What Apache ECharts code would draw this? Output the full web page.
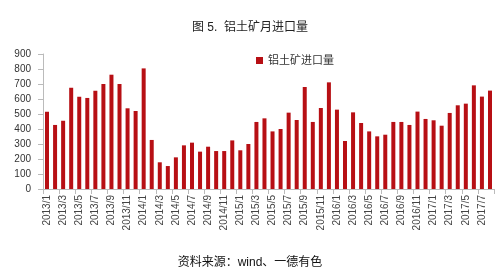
<!DOCTYPE html>
<html><head><meta charset="utf-8">
<script src="https://cdn.jsdelivr.net/npm/echarts@6/dist/echarts.min.js"></script>
<style>html,body{margin:0;padding:0;background:#fff}#c{width:500px;height:277px}</style>
</head><body><div id="c"></div>
<script>
const months = [];
for (let y = 2013; y <= 2017; y++) for (let m = 1; m <= 12; m++) { if (y === 2017 && m > 8) break; months.push(y + '/' + m); }
const seriesName = '铝土矿进口量';
const imports = [515,427,455,675,615,607,655,700,762,700,538,520,
  804,327,178,153,211,291,309,249,282,253,253,324,
  258,300,447,471,384,400,509,460,680,447,540,711,
  529,320,511,440,384,351,362,447,447,427,516,467,
  458,422,507,558,569,691,616,656];
const yTicks = {min:0, max:900, interval:100};
const chart = echarts.init(document.getElementById('c'), null, {renderer:'canvas'});
const font = '"Liberation Sans", "Noto Sans CJK SC", sans-serif';
chart.setOption({
  animation:false,
  title:[{text:'图 5.  铝土矿月进口量', left:'center', top:17, textStyle:{fontSize:12, fontWeight:'normal', color:'#222', fontFamily:font}},
         {text:'资料来源：wind、一德有色', left:'center', top:252, textStyle:{fontSize:12, fontWeight:'normal', color:'#111', fontFamily:font}}],
  legend:{data:[seriesName], left:251, top:50, itemWidth:7, itemHeight:7, itemGap:4, icon:'rect', textStyle:{fontSize:11, color:'#333', fontFamily:font}},
  grid:{left:43, right:6, top:54, bottom:88},
  xAxis:{type:'category', data:months,
    axisLine:{lineStyle:{color:'#bbb'}},
    axisTick:{show:true, interval:1, alignWithLabel:false, lineStyle:{color:'#bbb'}},
    axisLabel:{rotate:90, interval:1, fontSize:10, color:'#444', fontFamily:font, margin:6}},
  yAxis:{type:'value', min:yTicks.min, max:yTicks.max, interval:yTicks.interval,
    splitLine:{show:false},
    axisLine:{show:true, lineStyle:{color:'#bbb'}},
    axisTick:{show:true, lineStyle:{color:'#bbb'}},
    axisLabel:{fontSize:10, color:'#333', fontFamily:font, margin:12}},
  series:[{name:seriesName, type:'bar', data:imports, barWidth:4, itemStyle:{color:'#B70F14'}}]
});
</script></body></html>
